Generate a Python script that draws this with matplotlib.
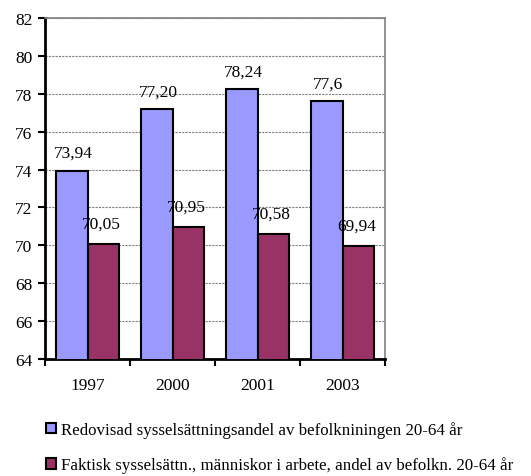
import numpy as np
import matplotlib
matplotlib.use("Agg")
import matplotlib.pyplot as plt
from matplotlib.patches import Patch

years = ["1997", "2000", "2001", "2003"]
redovisad = [73.94, 77.20, 78.24, 77.6]
faktisk = [70.05, 70.95, 70.58, 69.94]
redovisad_labels = ["73,94", "77,20", "78,24", "77,6"]
faktisk_labels = ["70,05", "70,95", "70,58", "69,94"]
legend_labels = ["Redovisad sysselsättningsandel av befolkniningen 20-64 år",
                 "Faktisk sysselsättn., människor i arbete, andel av befolkn. 20-64 år"]

plt.rcParams['font.family'] = ['Liberation Serif', 'DejaVu Serif']
fs = 12.5
blue = "#9999FF"
red = "#993366"

fig = plt.figure(figsize=(5.31, 4.77), dpi=100)
ax = fig.add_axes([45/531, 1-360/477, 340/531, 341/477])

x = np.arange(len(years))
w = 0.365
ax.bar(x - w/2, redovisad, w, color=blue, edgecolor="black", linewidth=1.5, zorder=3)
ax.bar(x + w/2, faktisk, w, color=red, edgecolor="black", linewidth=1.5, zorder=3)

for xi, v, t in zip(x - w/2, redovisad, redovisad_labels):
    ax.annotate(t, (xi, v), xytext=(1, 7), textcoords="offset points",
                ha="center", va="bottom", fontsize=fs, zorder=4)
for xi, v, t in zip(x + w/2, faktisk, faktisk_labels):
    ax.annotate(t, (xi, v), xytext=(-1, 9.5), textcoords="offset points",
                ha="center", va="bottom", fontsize=fs, zorder=4)

ax.set_ylim(64, 82)
ax.set_xlim(-0.5, len(years) - 0.5)
ax.set_yticks(np.arange(64, 83, 2))
ax.set_yticklabels([str(v) for v in range(64, 83, 2)], fontsize=fs)
ax.yaxis.grid(True, color="#808080", linestyle=(0, (2, 1)), linewidth=0.8, zorder=0)

ax.set_xticks(x)
ax.set_xticklabels(years, fontsize=fs)
ax.set_xticks(np.arange(-0.5, len(years)), minor=True)
ax.tick_params(axis="x", which="major", length=0, pad=13)
ax.tick_params(axis="x", which="minor", length=5, width=1.5, direction="out")
ax.tick_params(axis="y", length=5, width=1.5, direction="out", pad=4)

for s in ["left", "bottom"]:
    ax.spines[s].set_linewidth(2)
    ax.spines[s].set_color("black")
for s in ["top", "right"]:
    ax.spines[s].set_linewidth(1.2)
    ax.spines[s].set_color("#808080")

handles = [Patch(facecolor=blue, edgecolor="black", linewidth=1.5),
           Patch(facecolor=red, edgecolor="black", linewidth=1.5)]
fig.legend(handles, legend_labels, loc="upper left", bbox_to_anchor=(46/531, 1-422/477),
           frameon=False, fontsize=12.2, handlelength=0.6, handleheight=0.6,
           handletextpad=0.3, labelspacing=1.1, borderaxespad=0, borderpad=0)

fig.savefig("out.png", dpi=100)
